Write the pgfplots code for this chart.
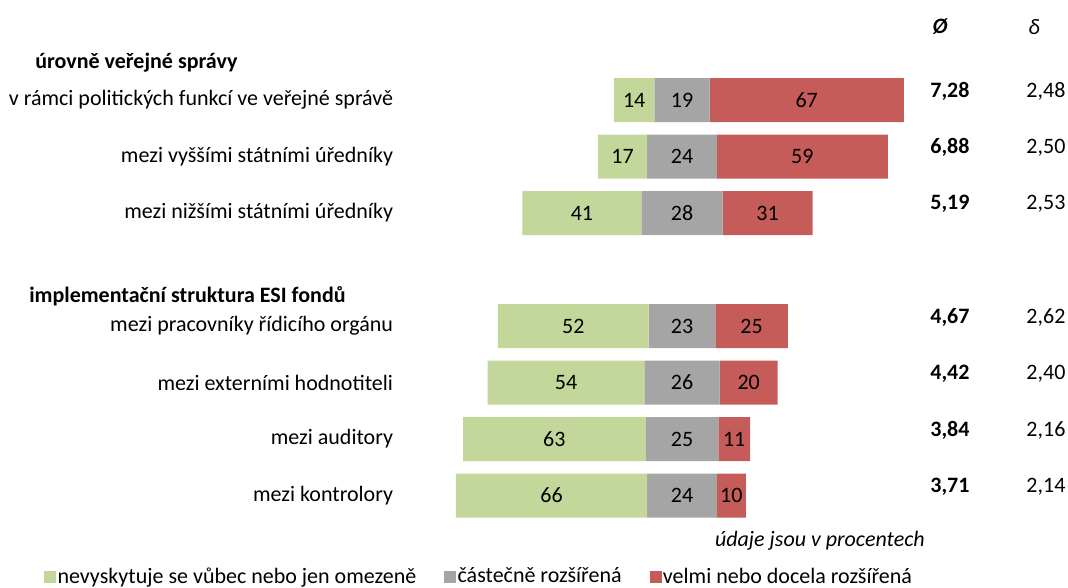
\documentclass[border=0pt]{standalone}
\usepackage{fontspec}
\setmainfont{Carlito}
\usepackage{pgfplots}
\pgfplotsset{compat=1.18}
\definecolor{cgreen}{RGB}{196,215,155}
\definecolor{cgray}{RGB}{165,165,165}
\definecolor{cred}{RGB}{197,92,89}
\newcommand{\fs}{\fontsize{16.5}{19}\selectfont}

\begin{document}
\fs
\begin{tikzpicture}[x=0.75pt,y=0.75pt,font=\fs]
\path[use as bounding box] (0,0) rectangle (1068,-588);

% bars: invisible offset so that the grey segment is centred on 100
\begin{axis}[
    at={(294pt,-392.8125pt)}, anchor=south west,
    width=435pt, height=339pt, scale only axis,
    xbar stacked, bar width=33pt,
    xmin=0, xmax=200,
    ymin=-0.5, ymax=7.5, y dir=reverse,
    axis line style={draw=none}, tick style={draw=none},
    xtick=\empty,
    ytick={0,1,2,4,5,6,7},
    yticklabels={v rámci politických funkcí ve veřejné správě,
                 mezi vyššími státními úředníky,
                 mezi nižšími státními úředníky,
                 mezi pracovníky řídicího orgánu,
                 mezi externími hodnotiteli,
                 mezi auditory,
                 mezi kontrolory},
    yticklabel style={anchor=east, inner sep=0pt, xshift=1pt},
    clip=false,
    /pgf/number format/assume math mode=true,
    every node near coord/.append style={font=\fs, text=black},
    legend columns=3,
    legend style={at={(-0.607,-0.118)}, anchor=west, draw=none, fill=none,
        nodes={inner xsep=1pt},
        /tikz/every even column/.append style={column sep=20pt}},
    legend image code/.code={\fill[#1] (0pt,-4.5pt) rectangle (9pt,4.5pt);},
  ]
  \addplot[draw=none, fill=none, forget plot] coordinates {
    (76.5,0) (71,1) (45,2) (36.5,4) (33,5) (24.5,6) (22,7)};
  \addplot[fill=cgreen, draw=none, nodes near coords] coordinates {
    (14,0) (17,1) (41,2) (52,4) (54,5) (63,6) (66,7)};
  \addplot[fill=cgray, draw=none, nodes near coords] coordinates {
    (19,0) (24,1) (28,2) (23,4) (26,5) (25,6) (24,7)};
  \addplot[fill=cred, draw=none, nodes near coords] coordinates {
    (67,0) (59,1) (31,2) (25,4) (20,5) (11,6) (10,7)};
  \legend{nevyskytuje se vůbec nebo jen omezeně, částečně rozšířená, velmi nebo docela rozšířená}
\end{axis}

% average and deviation columns
\begin{axis}[
    at={(294pt,-392.8125pt)}, anchor=south west,
    width=435pt, height=339pt, scale only axis,
    xmin=0, xmax=200,
    ymin=-0.5, ymax=7.5, y dir=reverse,
    hide axis, clip=false,
    point meta=explicit symbolic,
    every node near coord/.append style={anchor=center, yshift=6.75pt,
        font=\fs, text=black},
  ]
  \addplot[draw=none, mark=none, nodes near coords={\textbf{\pgfplotspointmeta}}]
    table[meta=m] {
    x y m
    192.4 0 7,28
    192.4 1 6,88
    192.4 2 5,19
    192.4 4 4,67
    192.4 5 4,42
    192.4 6 3,84
    192.4 7 3,71
  };
  \addplot[draw=none, mark=none, nodes near coords]
    table[meta=m] {
    x y m
    225.5 0 2,48
    225.5 1 2,50
    225.5 2 2,53
    225.5 4 2,62
    225.5 5 2,40
    225.5 6 2,16
    225.5 7 2,14
  };
\end{axis}

\node[font=\fs\bfseries\itshape] at (940,-27) {Ø};
\node[font=\fs\itshape] at (1034,-27) {δ};
\node[anchor=west, inner sep=0pt, font=\fs\bfseries] at (35,-63) {úrovně veřejné správy};
\node[anchor=west, inner sep=0pt, font=\fs\bfseries] at (29,-296) {implementační struktura ESI fondů};
\node[anchor=east, inner sep=0pt, font=\fs\itshape] at (925,-541) {údaje jsou v procentech};
\end{tikzpicture}
\end{document}
